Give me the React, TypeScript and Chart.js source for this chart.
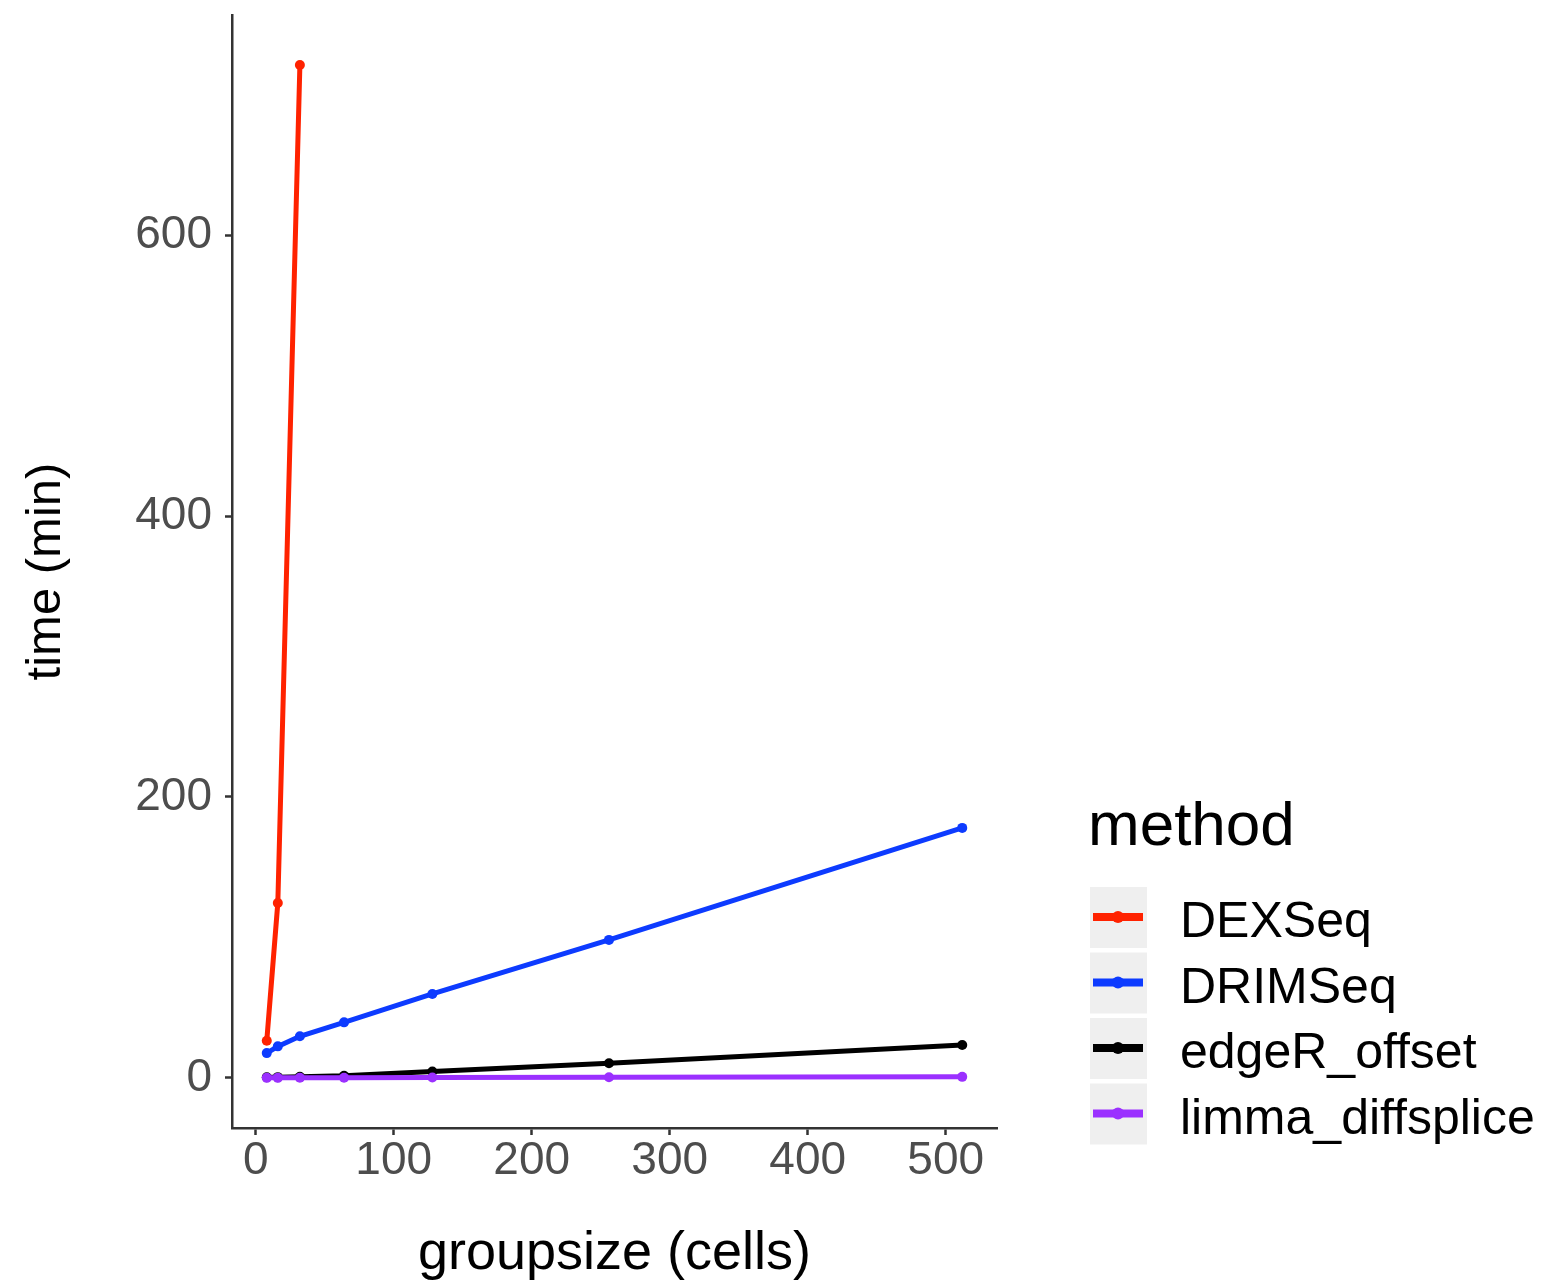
import React, { useEffect, useRef } from "react";
import { Chart, registerables } from "chart.js";

Chart.register(...registerables);

// Run time (minutes) of each method per group size (cells per group)
const groupSizes = [8, 16, 32, 64, 128, 256, 512];
const methods = ["DEXSeq", "DRIMSeq", "edgeR_offset", "limma_diffsplice"];
const dexseqMin: (number | null)[] = [26.5, 124.5, 721, null, null, null, null];
const drimseqMin = [17.7, 22.5, 29.7, 39.6, 59.8, 98.3, 178];
const edgeROffsetMin = [0.5, 0.6, 0.8, 1.6, 4.6, 10.5, 23.5];
const limmaDiffspliceMin = [0.1, 0.1, 0.2, 0.2, 0.3, 0.5, 0.8];
const methodColors = ["#ff2200", "#0d3bff", "#000000", "#9b30ff"];

const xTicks = [0, 100, 200, 300, 400, 500];
const yTicks = [0, 200, 400, 600];

const FONT = "'Liberation Sans', Arial, Helvetica, sans-serif";
const W = 1544;
const H = 1283;

const seriesValues = [dexseqMin, drimseqMin, edgeROffsetMin, limmaDiffspliceMin];

function toPoints(values: (number | null)[]) {
  const pts: { x: number; y: number }[] = [];
  values.forEach((v, i) => {
    if (v !== null && v !== undefined) pts.push({ x: groupSizes[i], y: v });
  });
  return pts;
}

// ggplot-like legend: title plus grey key boxes with line + point glyph
const methodLegend = {
  id: "methodLegend",
  afterDraw(chart: any) {
    const ctx: CanvasRenderingContext2D = chart.ctx;
    ctx.save();
    ctx.fillStyle = "#000";
    ctx.font = `62px ${FONT}`;
    ctx.textAlign = "left";
    ctx.textBaseline = "alphabetic";
    ctx.fillText("method", 1088, 845);

    chart.data.datasets.forEach((ds: any, i: number) => {
      const cy = 917 + i * 65.5;
      ctx.fillStyle = "#efefef";
      ctx.fillRect(1090, cy - 30, 57, 61);
      ctx.strokeStyle = ds.borderColor;
      ctx.lineWidth = 8;
      ctx.beginPath();
      ctx.moveTo(1093, cy);
      ctx.lineTo(1143, cy);
      ctx.stroke();
      ctx.fillStyle = ds.borderColor;
      ctx.beginPath();
      ctx.arc(1118, cy, 6, 0, Math.PI * 2);
      ctx.fill();
      ctx.fillStyle = "#000";
      ctx.font = `50px ${FONT}`;
      ctx.fillText(ds.label, 1180, cy + 20);
    });
    ctx.restore();
  },
};

export default function App() {
  const canvasRef = useRef<HTMLCanvasElement | null>(null);

  useEffect(() => {
    const canvas = canvasRef.current;
    if (!canvas) return;

    const datasets = methods.map((m, i) => ({
      label: m,
      data: toPoints(seriesValues[i]),
      borderColor: methodColors[i],
      backgroundColor: methodColors[i],
      borderWidth: 5,
      pointRadius: 5,
      pointBorderWidth: 0,
      pointBackgroundColor: methodColors[i],
      tension: 0,
      order: methods.length - i,
    }));

    const tickGrid = {
      display: true,
      drawOnChartArea: false,
      drawTicks: true,
      tickLength: 7,
      tickWidth: 2.5,
      tickColor: "#333",
      color: "#333",
    };

    const noEdgePadding = (scale: any) => {
      scale.paddingTop = 0;
      scale.paddingBottom = 0;
      scale.paddingLeft = 0;
      scale.paddingRight = 0;
    };

    const chart = new Chart(canvas, {
      type: "line",
      data: { datasets },
      plugins: [methodLegend],
      options: {
        animation: false,
        responsive: false,
        devicePixelRatio: 1,
        layout: { padding: { left: 0, top: 15, right: 547, bottom: 0 } },
        plugins: {
          legend: { display: false },
          tooltip: { enabled: false },
        },
        scales: {
          x: {
            type: "linear",
            min: -17.2,
            max: 537.2,
            afterBuildTicks: (scale: any) => {
              scale.ticks = xTicks.map((v) => ({ value: v }));
            },
            afterFit: (scale: any) => {
              scale.height = 155;
              noEdgePadding(scale);
            },
            grid: tickGrid,
            border: { display: true, color: "#333", width: 2.5 },
            ticks: {
              color: "#4d4d4d",
              font: { family: FONT, size: 46, lineHeight: 1 },
              padding: 3,
              maxRotation: 0,
              autoSkip: false,
            },
            title: {
              display: true,
              text: "groupsize (cells)",
              color: "#000",
              font: { family: FONT, size: 54, lineHeight: 1.2 },
              padding: { top: 0, bottom: -4 },
            },
          },
          y: {
            type: "linear",
            min: -35.6,
            max: 756.6,
            afterBuildTicks: (scale: any) => {
              scale.ticks = yTicks.map((v) => ({ value: v }));
            },
            afterFit: (scale: any) => {
              scale.width = 232;
              noEdgePadding(scale);
            },
            grid: tickGrid,
            border: { display: true, color: "#333", width: 2.5 },
            ticks: {
              color: "#4d4d4d",
              font: { family: FONT, size: 46 },
              padding: 13,
              autoSkip: false,
            },
            title: {
              display: true,
              text: "time (min)",
              color: "#000",
              font: { family: FONT, size: 49, lineHeight: 1.2 },
              padding: { top: 17, bottom: 0 },
            },
          },
        },
      },
    } as any);

    return () => chart.destroy();
  }, []);

  return (
    <div style={{ position: "absolute", left: 0, top: 0, width: W, height: H, background: "#fff" }}>
      <canvas ref={canvasRef} width={W} height={H} style={{ width: W, height: H, display: "block" }} />
    </div>
  );
}
